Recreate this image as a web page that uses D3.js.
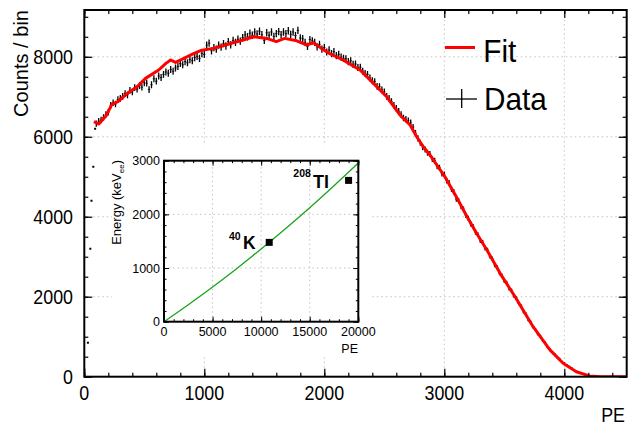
<!DOCTYPE html>
<html lang="en">
<head>
<meta charset="utf-8">
<title>PE spectrum</title>
<script src="https://d3js.org/d3.v7.min.js"></script>
<style>
  body { margin: 0; background: #fff; }
  text { font-family: "Liberation Sans", Arial, sans-serif; }
</style>
</head>
<body>
<script>
var svg_width = 631, svg_height = 426;

// histogram, 20 PE wide bins starting at 100 PE
var binStart = 100, binWidth = 20;
var counts = [
  6330, 6390, 6420, 6480, 6560, 6610, 6790, 6850, 6820, 6930, 6960,
  7010, 7080, 7050, 7160, 7120, 7230, 7190, 7280, 7240, 7350,
  7340, 7180, 7300, 7450, 7390, 7520, 7480, 7560, 7620, 7590, 7680, 7640, 7720,
  7760, 7830, 7800, 7880, 7850, 7930, 7900, 7980, 8010, 7960, 8080, 8060,
  8290, 8340, 8150, 8230, 8190, 8290, 8240, 8330, 8270, 8380, 8300, 8410, 8360, 8440, 8390,
  8480, 8550, 8500, 8590, 8540, 8620, 8570, 8640, 8550, 8410, 8600, 8540, 8620, 8510, 8580,
  8630, 8550, 8620, 8580, 8650, 8560, 8620, 8530, 8660, 8470, 8450, 8360, 8260, 8430, 8400,
  8360, 8250, 8310, 8190, 8230, 8120, 8170, 8080, 8130, 8030, 8060, 7990, 7960, 7950, 7880, 7900, 7810, 7820, 7730, 7740,
  7640, 7580, 7560, 7470, 7400, 7380, 7260, 7250, 7170, 7120, 7010, 6960, 6880, 6790, 6710,
  6640, 6560, 6470, 6440, 6400, 6350, 6240, 6090, 5960, 5850,
  5740, 5680, 5600, 5570, 5440, 5400, 5260, 5230, 5080, 5060, 4900, 4850, 4690, 4620, 4440, 4400, 4250, 4190, 4030, 3960,
  3820, 3760, 3610, 3550, 3400, 3360, 3210, 3170, 3010, 2950, 2790, 2740, 2590, 2530, 2390, 2350, 2200, 2160, 2020, 1970,
  1830, 1770, 1620, 1570, 1420, 1370, 1240, 1180, 1060, 1020, 900, 850, 740, 690, 620, 570, 500, 450, 380, 340,
  300, 260, 220, 180, 140, 115, 95, 75, 55, 40, 25, 18, 10, 6, 3,
  2, 1, 0, 0, 0, 0, 0, 0, 0, 0
];
// a few low bins below the fit start
var lowPE = [30, 50, 60, 75, 90];
var lowCounts = [850, 3200, 4400, 5250, 6200];

// fit curve
var fitPE = [80, 120, 180, 230, 280, 360, 440, 510, 620, 680, 720, 760, 830, 910, 980,
  1075, 1160, 1240, 1325, 1410, 1520, 1600, 1670, 1770, 1850, 1910, 1965, 2050, 2160, 2300,
  2410, 2520, 2630, 2715, 2770, 2825, 2880, 3005, 3100, 3190, 3270, 3355, 3470, 3590, 3740,
  3880, 3990, 4100, 4210, 4300, 4520];
var fitCounts = [6380, 6320, 6520, 6810, 6880, 7085, 7250, 7460, 7670, 7835, 7920, 7860, 7960, 8080, 8165,
  8210, 8280, 8350, 8420, 8500, 8460, 8380, 8460, 8400, 8295, 8350, 8235, 8070, 7915, 7665,
  7335, 7000, 6545, 6295, 6000, 5750, 5545, 5000, 4500, 4000, 3580, 3170, 2560, 2000, 1250,
  670, 335, 125, 20, 0, 0];

var xTicks = [0, 1000, 2000, 3000, 4000];
var yTicks = [0, 2000, 4000, 6000, 8000];

// inset: calibration
var calPE = [0, 2500, 5000, 7500, 10000, 12500, 15000, 17500, 20000];
var calE = [0, 316, 646, 993, 1355, 1732, 2124, 2533, 2956];
var peakPE = [10830, 19000];
var peakE = [1478, 2633];
var peakMass = ["40", "208"];
var peakElem = ["K", "Tl"];
var insetXTicks = [0, 5000, 10000, 15000, 20000];
var insetYTicks = [0, 1000, 2000, 3000];

var svg = d3.select("body").append("svg")
  .attr("width", svg_width).attr("height", svg_height);

var x = d3.scaleLinear().domain([0, 4520]).range([84.3, 626.7]);
var y = d3.scaleLinear().domain([0, 9170]).range([376.7, 10]);

// squeezed text helper
function label(g, px, py, str, size, sx, anchor, rot) {
  return g.append("text")
    .attr("transform", "translate(" + px + "," + py + ")" + (rot ? " rotate(" + rot + ")" : "") + " scale(" + sx + ",1)")
    .attr("text-anchor", anchor)
    .attr("font-size", size + "px")
    .text(str);
}

function gridLines(g, xs, ys, xv, yv) {
  g.selectAll(".gx").data(xv).join("line")
    .attr("x1", d => xs(d)).attr("x2", d => xs(d))
    .attr("y1", ys.range()[0]).attr("y2", ys.range()[1]);
  g.selectAll(".gy").data(yv).join("line").attr("class", "gy")
    .attr("x1", xs.range()[0]).attr("x2", xs.range()[1])
    .attr("y1", d => ys(d)).attr("y2", d => ys(d));
  g.selectAll("line").attr("stroke", "#c4c4c4").attr("stroke-width", 1)
    .attr("stroke-dasharray", "1.5,3");
}

// grid of main plot
gridLines(svg.append("g"), x, y, xTicks.slice(1), yTicks.slice(1));

svg.append("clipPath").attr("id", "frame")
  .append("rect").attr("x", 84.3).attr("y", 10).attr("width", 542.4).attr("height", 366.7);

// data with error bars
var bins = counts.map(function(c, i) { return { pe: binStart + i * binWidth, c: c }; });
var dataG = svg.append("g").attr("clip-path", "url(#frame)");
dataG.selectAll(".ev").data(bins).join("line").attr("class", "ev")
  .attr("x1", d => x(d.pe)).attr("x2", d => x(d.pe))
  .attr("y1", d => y(d.c - Math.sqrt(d.c))).attr("y2", d => y(d.c + Math.sqrt(d.c)))
  .attr("stroke", "#000").attr("stroke-width", 1.3);
dataG.selectAll(".eh").data(bins).join("line").attr("class", "eh")
  .attr("x1", d => x(d.pe - binWidth / 2)).attr("x2", d => x(d.pe + binWidth / 2))
  .attr("y1", d => y(d.c)).attr("y2", d => y(d.c))
  .attr("stroke", "#000").attr("stroke-width", 0.8);
dataG.selectAll(".low").data(lowPE).join("rect").attr("class", "low")
  .attr("x", d => x(d) - 1).attr("y", (d, i) => y(lowCounts[i]) - 1)
  .attr("width", 2).attr("height", 2).attr("fill", "#000");

// fit
var fitLine = d3.line().x(d => x(d[0])).y(d => y(d[1]));
dataG.append("path")
  .datum(fitPE.map((p, i) => [p, fitCounts[i]]))
  .attr("d", fitLine)
  .attr("fill", "none").attr("stroke", "#ff0000").attr("stroke-width", 3)
  .attr("stroke-linejoin", "round");

// axes (ticks inside, ROOT style)
function ticks(axis, tr, vals, size) {
  var g = svg.append("g").attr("transform", tr)
    .call(axis.tickValues(vals).tickSize(size).tickFormat(""));
  g.select(".domain").remove();
  g.selectAll("line").attr("stroke", "#000").attr("stroke-width", 1.2);
  return g;
}
var xMinor = d3.range(0, 4520, 200), yMinor = d3.range(0, 9170, 500);
[[d3.axisBottom(x), "translate(0,376.7)"], [d3.axisTop(x), "translate(0,10)"]].forEach(function(a) {
  ticks(a[0], a[1], xMinor, -4);
});
[[d3.axisBottom(x), "translate(0,376.7)"], [d3.axisTop(x), "translate(0,10)"]].forEach(function(a) {
  ticks(a[0], a[1], xTicks, -8);
});
[[d3.axisLeft(y), "translate(84.3,0)"], [d3.axisRight(y), "translate(626.7,0)"]].forEach(function(a) {
  ticks(a[0], a[1], yMinor, -4);
  ticks(a[0].tickSize(0), a[1], yTicks, -8);
});

svg.append("rect").attr("x", 84.3).attr("y", 10).attr("width", 542.4).attr("height", 366.7)
  .attr("fill", "none").attr("stroke", "#000").attr("stroke-width", 2);

// tick labels
var labG = svg.append("g");
xTicks.forEach(function(t) { label(labG, x(t), 400, d3.format("d")(t), 21, 0.85, "middle"); });
yTicks.forEach(function(t) { label(labG, 73, y(t) + 7.5, d3.format("d")(t), 21, 0.85, "end"); });
label(labG, 28.3, 10, "Counts / bin", 21, 0.955, "end", -90);
label(labG, 625, 421.5, "PE", 21, 0.85, "end");

// legend
svg.append("line").attr("x1", 445).attr("x2", 475).attr("y1", 47.5).attr("y2", 47.5)
  .attr("stroke", "#ff0000").attr("stroke-width", 3);
svg.append("line").attr("x1", 446).attr("x2", 477).attr("y1", 99).attr("y2", 99)
  .attr("stroke", "#000").attr("stroke-width", 1.3);
svg.append("line").attr("x1", 461.7).attr("x2", 461.7).attr("y1", 89).attr("y2", 108)
  .attr("stroke", "#000").attr("stroke-width", 1.3);
label(svg, 483.3, 61.7, "Fit", 32, 0.93, "start");
label(svg, 484, 110, "Data", 32, 0.93, "start");

// ---------- inset ----------
var ix = d3.scaleLinear().domain([0, 20000]).range([164, 358.3]);
var iy = d3.scaleLinear().domain([0, 3000]).range([321.7, 160.7]);

svg.append("rect").attr("x", 112).attr("y", 146).attr("width", 258).attr("height", 209)
  .attr("fill", "#fff");
gridLines(svg.append("g"), ix, iy, insetXTicks.slice(1, 4), insetYTicks.slice(1, 3));

svg.append("path")
  .datum(calPE.map((p, i) => [p, calE[i]]))
  .attr("d", d3.line().x(d => ix(d[0])).y(d => iy(d[1])).curve(d3.curveMonotoneX))
  .attr("fill", "none").attr("stroke", "#1aa31a").attr("stroke-width", 1.3);

svg.selectAll(".pk").data(peakPE).join("rect").attr("class", "pk")
  .attr("x", d => ix(d) - 3.5).attr("y", (d, i) => iy(peakE[i]) - 3.5)
  .attr("width", 7).attr("height", 7).attr("fill", "#000");

function iticks(axis, tr, vals, size) {
  var g = svg.append("g").attr("transform", tr)
    .call(axis.tickValues(vals).tickSize(size).tickFormat(""));
  g.select(".domain").remove();
  g.selectAll("line").attr("stroke", "#000").attr("stroke-width", 1);
}
var ixMinor = d3.range(0, 20001, 1000), iyMinor = d3.range(0, 3001, 200);
iticks(d3.axisBottom(ix), "translate(0,321.7)", ixMinor, -2.5);
iticks(d3.axisTop(ix), "translate(0,160.7)", ixMinor, -2.5);
iticks(d3.axisBottom(ix), "translate(0,321.7)", insetXTicks, -5);
iticks(d3.axisTop(ix), "translate(0,160.7)", insetXTicks, -5);
iticks(d3.axisLeft(iy), "translate(164,0)", iyMinor, -2.5);
iticks(d3.axisRight(iy), "translate(358.3,0)", iyMinor, -2.5);
iticks(d3.axisLeft(iy), "translate(164,0)", insetYTicks, -5);
iticks(d3.axisRight(iy), "translate(358.3,0)", insetYTicks, -5);

svg.append("rect").attr("x", 164).attr("y", 160.7).attr("width", 194.3).attr("height", 161)
  .attr("fill", "none").attr("stroke", "#000").attr("stroke-width", 2);

insetXTicks.forEach(function(t) { label(svg, ix(t), 336, d3.format("d")(t), 12.5, 1, "middle"); });
insetYTicks.forEach(function(t) { label(svg, 160, iy(t) + 4.5, d3.format("d")(t), 12.5, 1, "end"); });
label(svg, 358, 353, "PE", 12.5, 1, "end");

var eTitle = svg.append("text")
  .attr("transform", "translate(121,160) rotate(-90)")
  .attr("text-anchor", "end").attr("font-size", "13px");
eTitle.append("tspan").text("Energy (keV");
eTitle.append("tspan").attr("font-size", "8px").attr("dy", 3).text("ee");
eTitle.append("tspan").attr("dy", -3).text(")");

// isotope labels
var isoPos = [[229, 240, 243, 249.3, 17.5], [293.3, 177.3, 313, 188.3, 18]];
peakMass.forEach(function(m, i) {
  var p = isoPos[i];
  svg.append("text").attr("x", p[0]).attr("y", p[1]).attr("font-size", "10.5px")
    .attr("font-weight", "bold").text(m);
  svg.append("text").attr("x", p[2]).attr("y", p[3]).attr("font-size", p[4] + "px")
    .attr("font-weight", "bold").text(peakElem[i]);
});
</script>
</body>
</html>
